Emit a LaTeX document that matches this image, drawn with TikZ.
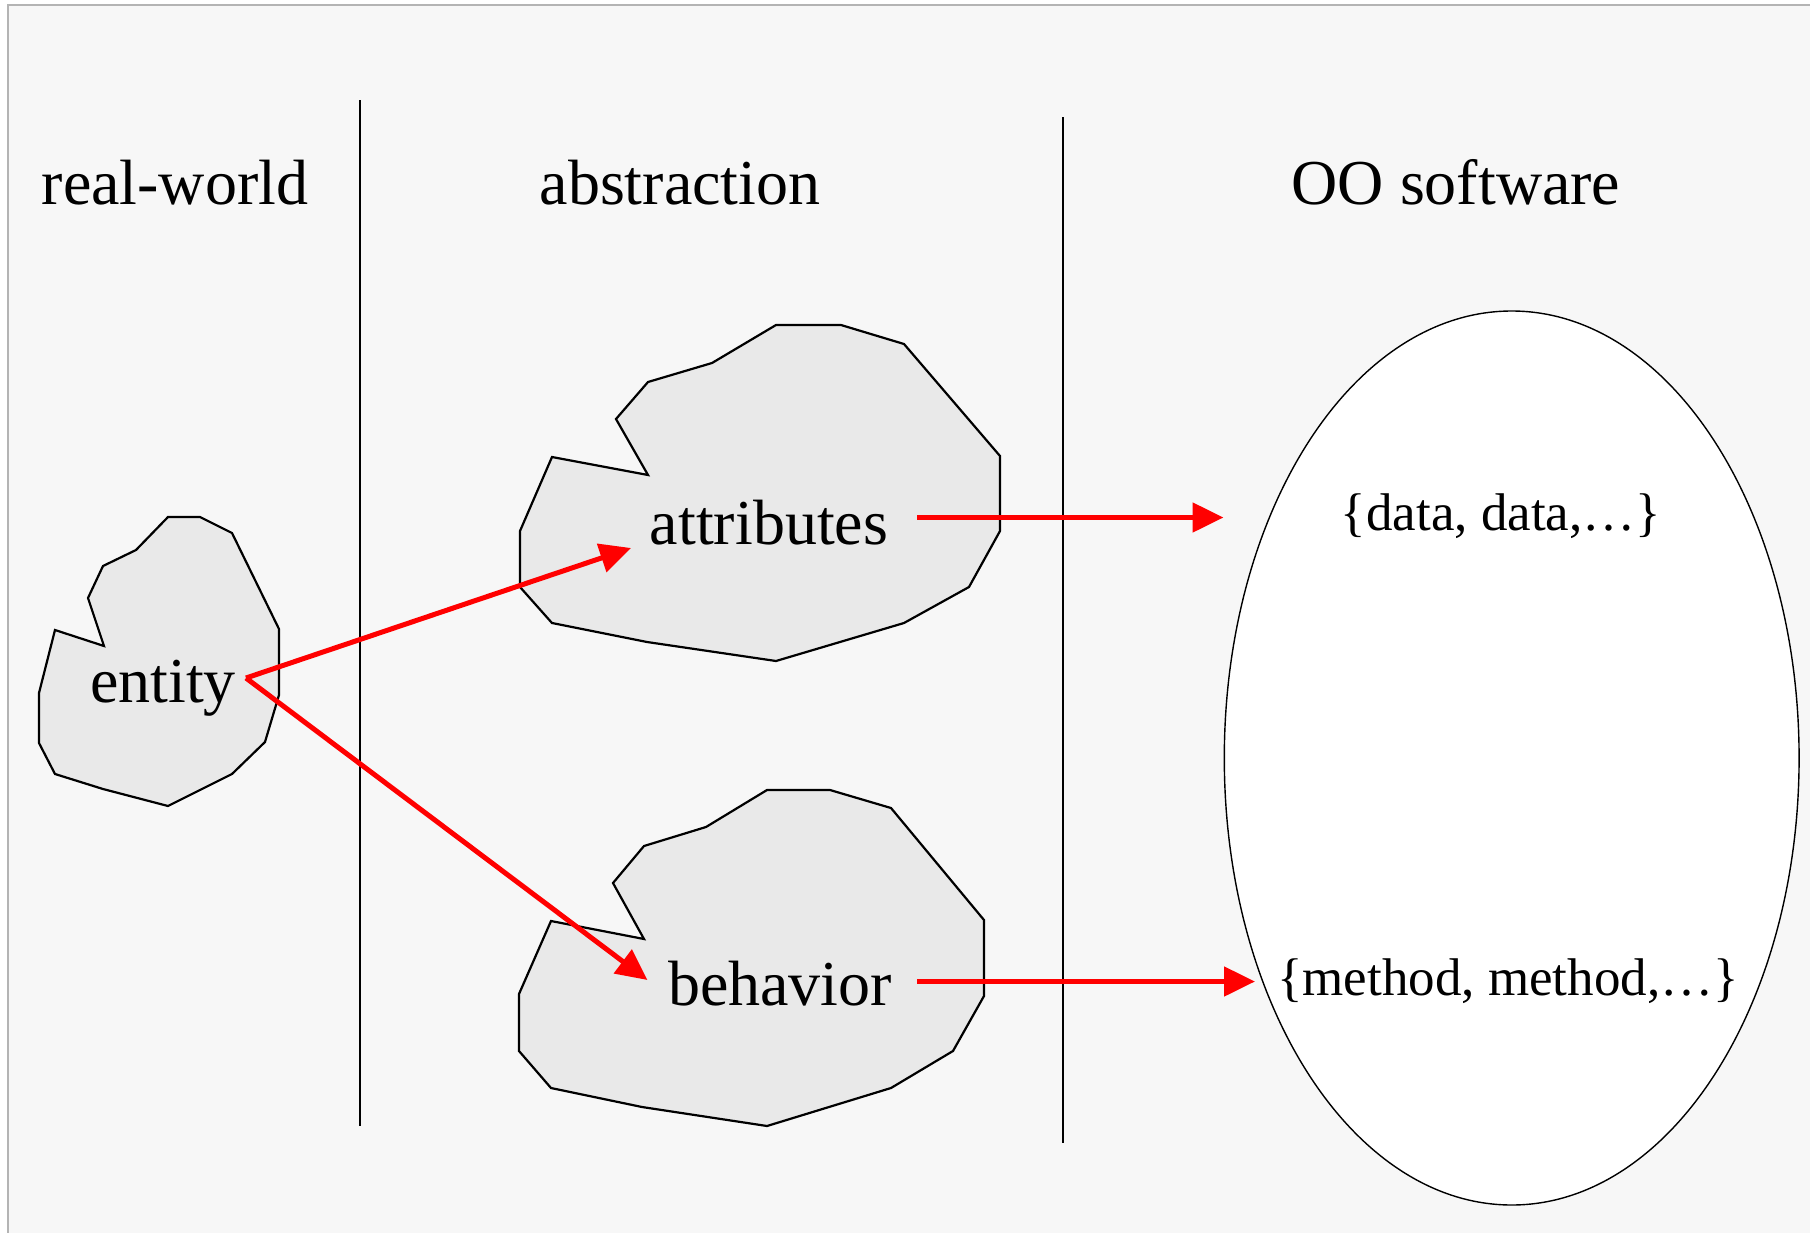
\documentclass[tikz,border=0pt]{standalone}
\usepackage{fontspec}
\setmainfont{Liberation Serif}
\usetikzlibrary{arrows.meta,shapes.geometric}
\definecolor{bgc}{HTML}{F7F7F7}
\definecolor{blobc}{HTML}{E9E9E9}
\definecolor{framec}{HTML}{B4B4B4}
\definecolor{arrowred}{HTML}{FF0000}
\begin{document}
\begin{tikzpicture}[x=0.5pt,y=-0.5pt,
  blob/.style={draw=black, line width=1.1pt, fill=blobc, line join=miter},
  lbl/.style={font=\fontsize{32}{38}\selectfont, anchor=base, inner sep=0pt},
  setlbl/.style={font=\fontsize{26.5}{32}\selectfont, anchor=base, inner sep=0pt},
  redarrow/.style={draw=arrowred, line width=2.5pt, -{Triangle[length=15.5pt,width=14.5pt]}},
  divider/.style={draw=black, line width=1pt}]
\useasboundingbox (0,0) rectangle (1810,1232);
\clip (0,0) rectangle (1810,1232);
\fill[white] (0,0) rectangle (1810,1232);
\draw[fill=bgc, draw=framec, line width=1pt] (8,5) rectangle (1840,1260);

% dividers
\draw[divider] (360,100) -- (360,1126);
\draw[divider] (1063,117) -- (1063,1143);

% titles
\node[lbl] (t1) at (175,204) {real-world};
\node[lbl] (t2) at (680,204) {abstraction};
\node[lbl] (t3) at (1456,204) {OO software};

% entity blob
\draw[blob] (168,517) -- (200,517) -- (232,533) -- (279,629) -- (279,695) -- (265,742)
  -- (232,774) -- (168,806) -- (103,789) -- (55,774) -- (39,743) -- (39,693)
  -- (55,630) -- (104,646) -- (88,598) -- (103,566) -- (136,550) -- cycle;
\node[lbl] (entity) at (163,702) {entity};

% attributes blob
\draw[blob] (776,325) -- (841,325) -- (904,344) -- (1000,456) -- (1000,531) -- (969,587)
  -- (904,623) -- (776,661) -- (647,642) -- (552,623) -- (520,587) -- (520,531)
  -- (552,457) -- (648,475) -- (616,419) -- (648,382) -- (712,363) -- cycle;
\node[lbl] (attr) at (769,544) {attributes};

% behavior blob
\draw[blob] (767,790) -- (830,790) -- (891,808) -- (984,920) -- (984,996) -- (953,1051)
  -- (891,1088) -- (767,1126) -- (642,1107) -- (551,1088) -- (519,1051) -- (519,994)
  -- (551,921) -- (644,939) -- (613,883) -- (644,846) -- (706,827) -- cycle;
\node[lbl] (behav) at (780,1005) {behavior};

% OO software ellipse
\node[draw=black, ellipse, fill=white, line width=0.7pt, inner sep=0pt,
  minimum width=287.4pt, minimum height=447pt] (oo) at (1511.7,758) {};
\node[setlbl] (data) at (1501,530) {\{data, data,…\}};
\node[setlbl] (method) at (1508,995) {\{method, method,…\}};

% connector coordinates
\coordinate (entOut) at (246,678);
\coordinate (attrIn) at (631,548);
\coordinate (behavIn) at (647.5,980);
\coordinate (attrOut) at (917,517.5);
\coordinate (dataIn) at (1223.5,517.5);
\coordinate (behavOut) at (917,981.5);
\coordinate (methodIn) at (1255,981.5);

\draw[redarrow] (entOut) -- (attrIn);
\draw[redarrow] (entOut) -- (behavIn);
\draw[redarrow] (attrOut) -- (dataIn);
\draw[redarrow] (behavOut) -- (methodIn);
\end{tikzpicture}
\end{document}
